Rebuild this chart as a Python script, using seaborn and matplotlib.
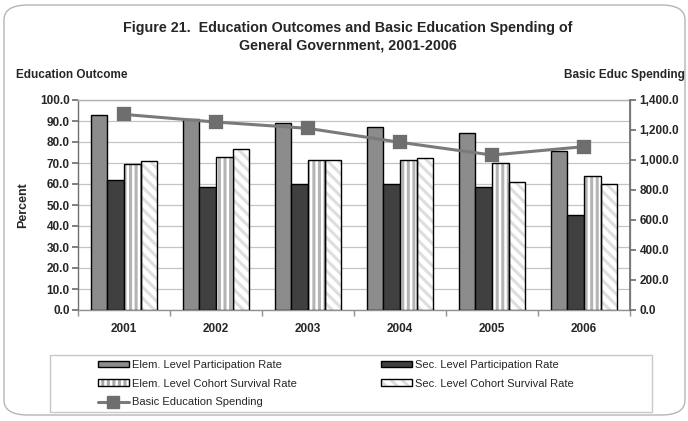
import matplotlib
matplotlib.use("Agg")
import matplotlib.pyplot as plt
from matplotlib.patches import Rectangle, FancyBboxPatch
from matplotlib.lines import Line2D
from matplotlib.ticker import FuncFormatter, MultipleLocator
import seaborn as sns
import pandas as pd

years = ["2001", "2002", "2003", "2004", "2005", "2006"]
elem_participation = [92.9, 90.8, 88.9, 87.3, 84.1, 75.7]
sec_participation = [61.9, 58.7, 59.8, 59.8, 58.4, 45.1]
elem_cohort_survival = [69.4, 72.7, 71.4, 71.4, 69.8, 64.0]
sec_cohort_survival = [71.1, 76.8, 71.4, 72.5, 61.0, 59.8]
basic_educ_spending = [1304, 1253, 1211, 1118, 1033, 1089]

series_names = [
    "Elem. Level Participation Rate",
    "Sec. Level Participation Rate",
    "Elem. Level Cohort Survival Rate",
    "Sec. Level Cohort Survival Rate",
]
line_name = "Basic Education Spending"

df = pd.DataFrame({
    "Year": years * 4,
    "Series": sum([[n] * len(years) for n in series_names], []),
    "Value": elem_participation + sec_participation
    + elem_cohort_survival + sec_cohort_survival,
})

sns.set_theme(style="white")
plt.rcParams["font.family"] = ["Liberation Sans", "DejaVu Sans"]
plt.rcParams["hatch.linewidth"] = 2.2

fig = plt.figure(figsize=(6.88, 4.21), dpi=100)
ax = fig.add_axes([78 / 688, 1 - 310 / 421, (630 - 78) / 688, 210 / 421])

# Rounded outer frame
fig.patches.append(FancyBboxPatch(
    (4 / 688, 6 / 421), 681 / 688, 410 / 421,
    boxstyle="round,pad=0,rounding_size=0.035",
    transform=fig.transFigure, facecolor="none",
    edgecolor="#b5b5b5", linewidth=1.0, zorder=-1))

palette = ["#8c8c8c", "#404040", "#ffffff", "#ffffff"]
sns.barplot(data=df, x="Year", y="Value", hue="Series", hue_order=series_names,
            palette=palette, width=0.72, gap=0, edgecolor="black",
            linewidth=1.0, saturation=1, legend=False, ax=ax, zorder=3)

# Patterned fills for the cohort survival series
hatch_specs = {2: ("|||", "#b4b4b4"), 3: ("\\\\\\", "#dedede")}
n = len(years)
for i, patch in enumerate(ax.patches[:4 * n]):
    s = i // n
    if s in hatch_specs:
        h, c = hatch_specs[s]
        patch.set_hatch(h)
        patch.set_edgecolor(c)
        patch.set_linewidth(0)
        ax.add_patch(Rectangle(patch.get_xy(), patch.get_width(), patch.get_height(),
                               fill=False, edgecolor="black", linewidth=1.0, zorder=4))

ax.set_ylim(0, 100)
ax.set_xlim(-0.5, n - 0.5)
ax.yaxis.set_major_locator(MultipleLocator(10))
ax.yaxis.set_major_formatter(FuncFormatter(lambda v, p: f"{v:.1f}"))
ax.grid(axis="y", color="#c4c4c4", linewidth=0.9, zorder=0)
ax.set_axisbelow(True)
ax.set_xlabel("")
ax.set_ylabel("Percent", fontsize=9, fontweight="bold", labelpad=8)
ax.set_xticks(range(n))
ax.set_xticklabels(years)
ax.set_xticks([i + 0.5 for i in range(-1, n)], minor=True)
ax.tick_params(axis="x", which="major", length=0, pad=9, labelsize=8.5)
ax.tick_params(axis="x", which="minor", length=4, direction="out", color="#909090", bottom=True)
ax.tick_params(axis="y", length=4, direction="out", color="#707070", left=True,
               labelsize=8.5, pad=2)
for lab in ax.get_xticklabels() + ax.get_yticklabels():
    lab.set_fontweight("bold")
for side in ["top", "right"]:
    ax.spines[side].set_color("#b0b0b0")
ax.spines["left"].set_color("#707070")
ax.spines["bottom"].set_color("#909090")
for sp in ax.spines.values():
    sp.set_linewidth(1.0)

# Spending line on the secondary axis
ax2 = ax.twinx()
sns.pointplot(x=years, y=basic_educ_spending, ax=ax2, color="#7a7a7a",
              markers="s", markersize=9, linewidth=2.2, zorder=5)
for coll in ax2.collections:
    coll.set_facecolor("#6e6e6e")
    coll.set_edgecolor("#6e6e6e")
for ln in ax2.lines:
    ln.set_markerfacecolor("#6e6e6e")
    ln.set_markeredgecolor("#6e6e6e")
ax2.set_ylim(0, 1400)
ax2.set_xlim(-0.5, n - 0.5)
ax2.yaxis.set_major_locator(MultipleLocator(200))
ax2.yaxis.set_major_formatter(FuncFormatter(lambda v, p: f"{v:,.1f}"))
ax2.tick_params(axis="y", length=4, direction="out", color="#707070", right=True,
                labelsize=8.5, pad=3)
for lab in ax2.get_yticklabels():
    lab.set_fontweight("bold")
ax2.set_ylabel("")
ax2.grid(False)
for side, sp in ax2.spines.items():
    sp.set_visible(side == "right")
ax2.spines["right"].set_color("#707070")

# Titles and axis captions
fig.text(0.505, 1 - 28 / 421, "Figure 21.  Education Outcomes and Basic Education Spending of",
         ha="center", va="center", fontsize=10.3, fontweight="bold")
fig.text(0.505, 1 - 46 / 421, "General Government, 2001-2006",
         ha="center", va="center", fontsize=10.3, fontweight="bold")
fig.text(16 / 688, 1 - 75 / 421, "Education Outcome", ha="left", va="center",
         fontsize=8.5, fontweight="bold")
fig.text(685 / 688, 1 - 75 / 421, "Basic Educ Spending", ha="right", va="center",
         fontsize=8.5, fontweight="bold")

# Legend: hatched swatches with gray stripes and a black outline
def outlined(face, hatch=None, hcolor=None):
    fill = Rectangle((0, 0), 1, 1, facecolor=face, edgecolor=hcolor or face,
                     hatch=hatch, linewidth=0)
    edge = Rectangle((0, 0), 1, 1, fill=False, edgecolor="black", linewidth=1.0)
    return (fill, edge)

h_ep = outlined(palette[0])
h_sp = outlined(palette[1])
h_ec = outlined("white", "|||", "#a8a8a8")
h_sc = outlined("white", "\\\\\\", "#dedede")
h_ln = Line2D([], [], color="#7a7a7a", linewidth=2.2, marker="s",
              markersize=8, markerfacecolor="#6e6e6e", markeredgecolor="#6e6e6e")

leg = fig.legend(
    [h_ep, h_ec, h_ln, h_sp, h_sc],
    [series_names[0], series_names[2], line_name, series_names[1], series_names[3]],
    ncol=2, loc="upper left",
    bbox_to_anchor=(94 / 688, 1 - 356 / 421),
    frameon=False, fontsize=8.0,
    handlelength=2.8, handleheight=0.55, handletextpad=0.3,
    columnspacing=7.5, labelspacing=0.78, borderpad=0.35, borderaxespad=0)

# Legend box
fig.patches.append(Rectangle((50 / 688, 1 - 412 / 421), 602 / 688, 57 / 421,
                             transform=fig.transFigure, fill=False,
                             edgecolor="#c8c8c8", linewidth=1.0))

fig.savefig("out.png", dpi=100)
